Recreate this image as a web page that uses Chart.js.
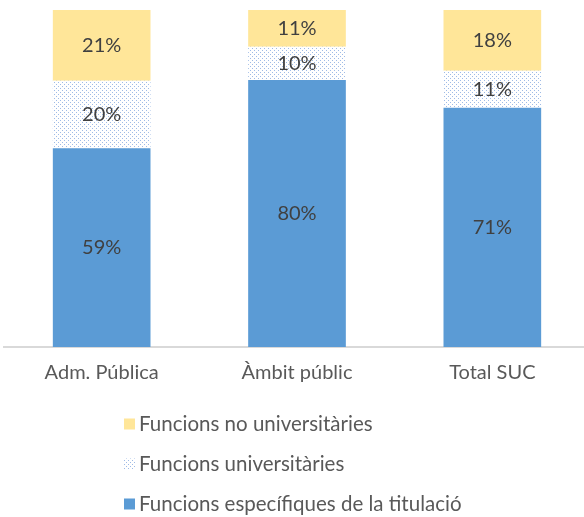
<!DOCTYPE html>
<html>
<head>
<meta charset="utf-8">
<script src="https://cdn.jsdelivr.net/npm/chart.js@4"></script>
<style>
  html, body { margin: 0; padding: 0; background: #fff; overflow: hidden; }
  #wrap { width: 590px; height: 517px; position: relative; }
</style>
</head>
<body>
<div id="wrap"><canvas id="chart"></canvas></div>
<script>
// categories and shares (%) as printed on the bars
const categories = ['Adm. Pública', 'Àmbit públic', 'Total SUC'];
const especifiques = [59, 80, 71];
const universitaries = [20, 10, 11];
const noUniversitaries = [21, 11, 18];

const seriesNames = [
  'Funcions específiques de la titulació',
  'Funcions universitàries',
  'Funcions no universitàries'
];

const FONT = 'Lato, "Open Sans", sans-serif';

/* ---------- dotted fill (Excel "dotted" pattern look) ---------- */
function makeDots() {
  const c = document.createElement('canvas');
  c.width = 4; c.height = 4;
  const g = c.getContext('2d');
  g.fillStyle = '#ffffff';
  g.fillRect(0, 0, 4, 4);
  g.fillStyle = '#9fbbe6';
  g.fillRect(0, 0, 1, 1);
  g.fillRect(2, 2, 1, 1);
  return g.createPattern(c, 'repeat');
}
const dots = makeDots();

// 100% stacked: each column is scaled to its own total
const totals = categories.map((_, i) => especifiques[i] + universitaries[i] + noUniversitaries[i]);
const share = arr => arr.map((v, i) => v / totals[i] * 100);

const raw = [especifiques, universitaries, noUniversitaries];
const fills = ['#5b9bd5', dots, '#ffe699'];

/* ---------- value labels in the middle of each segment ---------- */
const segmentLabels = {
  id: 'segmentLabels',
  afterDatasetsDraw(chart) {
    const ctx = chart.ctx;
    ctx.save();
    ctx.font = '20px ' + FONT;
    ctx.fillStyle = '#404040';
    ctx.textAlign = 'center';
    ctx.textBaseline = 'middle';
    chart.data.datasets.forEach((ds, di) => {
      chart.getDatasetMeta(di).data.forEach((bar, i) => {
        ctx.fillText(raw[di][i] + '%', bar.x, (bar.y + bar.base) / 2);
      });
    });
    ctx.restore();
  }
};

/* ---------- vertical legend under the axis ---------- */
const stackLegend = {
  id: 'stackLegend',
  afterDraw(chart) {
    const ctx = chart.ctx;
    const top = chart.chartArea.bottom;
    const rows = [77, 117, 157];
    ctx.save();
    ctx.font = '20.5px ' + FONT;
    ctx.textBaseline = 'middle';
    ctx.textAlign = 'left';
    const order = [2, 1, 0];
    order.forEach((di, r) => {
      const y = top + rows[r];
      ctx.fillStyle = fills[di];
      ctx.fillRect(124, y - 5.5, 11, 11);
      ctx.fillStyle = '#595959';
      ctx.fillText(seriesNames[di], 139, y);
    });
    ctx.restore();
  }
};

new Chart(document.getElementById('chart'), {
  type: 'bar',
  data: {
    labels: categories,
    datasets: raw.map((arr, di) => ({
      label: seriesNames[di],
      data: share(arr),
      backgroundColor: fills[di],
      borderWidth: 0,
      categoryPercentage: 1,
      barPercentage: 0.5
    }))
  },
  options: {
    responsive: true,
    maintainAspectRatio: false,
    animation: false,
    layout: { padding: { left: 4, right: 0, top: 10, bottom: 118 } },
    plugins: {
      legend: { display: false },
      tooltip: { enabled: false }
    },
    scales: {
      x: {
        stacked: true,
        grid: { display: false, drawTicks: false },
        border: { color: '#d9d9d9', width: 2 },
        ticks: { color: '#595959', padding: 14, font: { family: FONT, size: 20 } }
      },
      y: {
        stacked: true,
        display: false,
        min: 0,
        max: 100
      }
    }
  },
  plugins: [segmentLabels, stackLegend]
});
</script>
</body>
</html>
